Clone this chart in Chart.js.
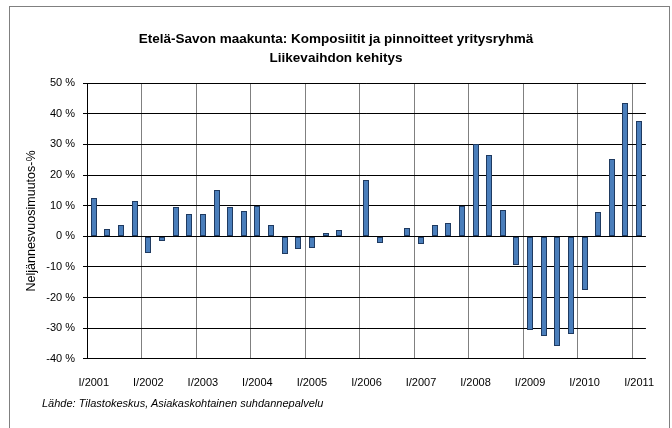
<!DOCTYPE html>
<html>
<head>
<meta charset="utf-8">
<script src="https://cdn.jsdelivr.net/npm/chart.js@4/dist/chart.umd.min.js"></script>
<style>
  html, body { margin: 0; padding: 0; background: #fff; overflow: hidden; }
  #wrap { position: relative; width: 672px; height: 428px; }
  #frame {
    position: absolute; left: 9px; top: 6px; width: 661px; height: 460px;
    border: 1px solid #808080; box-sizing: border-box; pointer-events: none;
  }
  #source {
    position: absolute; left: 42px; top: 397px;
    font: italic 11px 'Liberation Sans', Arial, sans-serif; color: #000;
  }
</style>
</head>
<body>
<div id="wrap">
  <canvas id="chart" width="672" height="428"></canvas>
  <div id="frame"></div>
  <div id="source">Lähde: Tilastokeskus, Asiakaskohtainen suhdannepalvelu</div>
</div>
<script>
// Quarters I/2001 .. I/2011
const QUARTERS = [
  'I/2001', 'II/2001', 'III/2001', 'IV/2001',
  'I/2002', 'II/2002', 'III/2002', 'IV/2002',
  'I/2003', 'II/2003', 'III/2003', 'IV/2003',
  'I/2004', 'II/2004', 'III/2004', 'IV/2004',
  'I/2005', 'II/2005', 'III/2005', 'IV/2005',
  'I/2006', 'II/2006', 'III/2006', 'IV/2006',
  'I/2007', 'II/2007', 'III/2007', 'IV/2007',
  'I/2008', 'II/2008', 'III/2008', 'IV/2008',
  'I/2009', 'II/2009', 'III/2009', 'IV/2009',
  'I/2010', 'II/2010', 'III/2010', 'IV/2010',
  'I/2011'
];

// Quarterly year-on-year change of turnover, %
const CHANGE_PCT = [
  12.5, 2.4, 3.8, 11.4,
  -5.3, -1.7, 9.5, 7.3,
  7.3, 15.0, 9.5, 8.3,
  10.0, 3.8, -5.9, -4.3,
  -3.8, 1.0, 2.1, -0.3,
  18.5, -2.2, -0.3, 2.8,
  -2.5, 3.8, 4.2, 9.8,
  30.2, 26.7, 8.7, -9.3,
  -30.5, -32.7, -35.8, -32.0,
  -17.4, 8.0, 25.3, 43.4,
  37.8
];

const Y_MIN = -40;
const Y_MAX = 50;
const Y_STEP = 10;

const FONT = "'Liberation Sans', Arial, sans-serif";

// snap bar centres to whole pixels so the thin bars keep crisp edges
const snapBars = {
  id: 'snapBars',
  afterDatasetsUpdate(chart) {
    chart.getDatasetMeta(0).data.forEach(bar => {
      bar.x = Math.round(bar.x);
      bar.y = Math.round(bar.y);
      bar.base = Math.round(bar.base);
    });
  }
};

const ctx = document.getElementById('chart');

new Chart(ctx, {
  type: 'bar',
  data: {
    labels: QUARTERS,
    datasets: [{
      label: 'Liikevaihto',
      data: CHANGE_PCT,
      backgroundColor: '#4a7ebb',
      borderColor: '#1f3a60',
      borderWidth: 1,
      borderSkipped: false,
      inflateAmount: 0,
      barThickness: 6
    }]
  },
  options: {
    responsive: false,
    animation: false,
    layout: {
      padding: { left: 0, right: 0, top: 0, bottom: 20 }
    },
    plugins: {
      legend: { display: false },
      tooltip: { enabled: false },
      title: {
        display: true,
        text: ['Etelä-Savon maakunta: Komposiitit ja pinnoitteet yritysryhmä', 'Liikevaihdon kehitys'],
        color: '#000',
        font: { family: FONT, size: 13.5, weight: 'bold', lineHeight: 1.45 },
        padding: { top: 29, bottom: 15 }
      }
    },
    scales: {
      x: {
        offset: true,
        grid: {
          offset: true,
          drawTicks: false,
          color: (c) => (c.index % 4 === 0 || c.index === QUARTERS.length) ? '#808080' : 'rgba(0,0,0,0)',
          lineWidth: 1
        },
        border: { display: false },
        ticks: {
          autoSkip: false,
          maxRotation: 0,
          padding: 18,
          color: '#000',
          font: { family: FONT, size: 11 },
          callback: function(value, index) {
            return index % 4 === 0 ? QUARTERS[index] : '';
          }
        }
      },
      y: {
        min: Y_MIN,
        max: Y_MAX,
        afterFit: (scale) => { scale.width = 87; },
        grid: {
          color: '#000',
          lineWidth: 1,
          tickLength: 4,
          tickColor: '#000'
        },
        border: { display: true, color: '#000' },
        ticks: {
          stepSize: Y_STEP,
          padding: 8,
          color: '#000',
          font: { family: FONT, size: 11 },
          callback: (v) => v + ' %'
        },
        title: {
          display: true,
          text: 'Neljännesvuosimuutos-%',
          color: '#000',
          font: { family: FONT, size: 12.5 },
          padding: { top: 24, bottom: 0 }
        }
      }
    }
  },
  plugins: [snapBars]
});
</script>
</body>
</html>
